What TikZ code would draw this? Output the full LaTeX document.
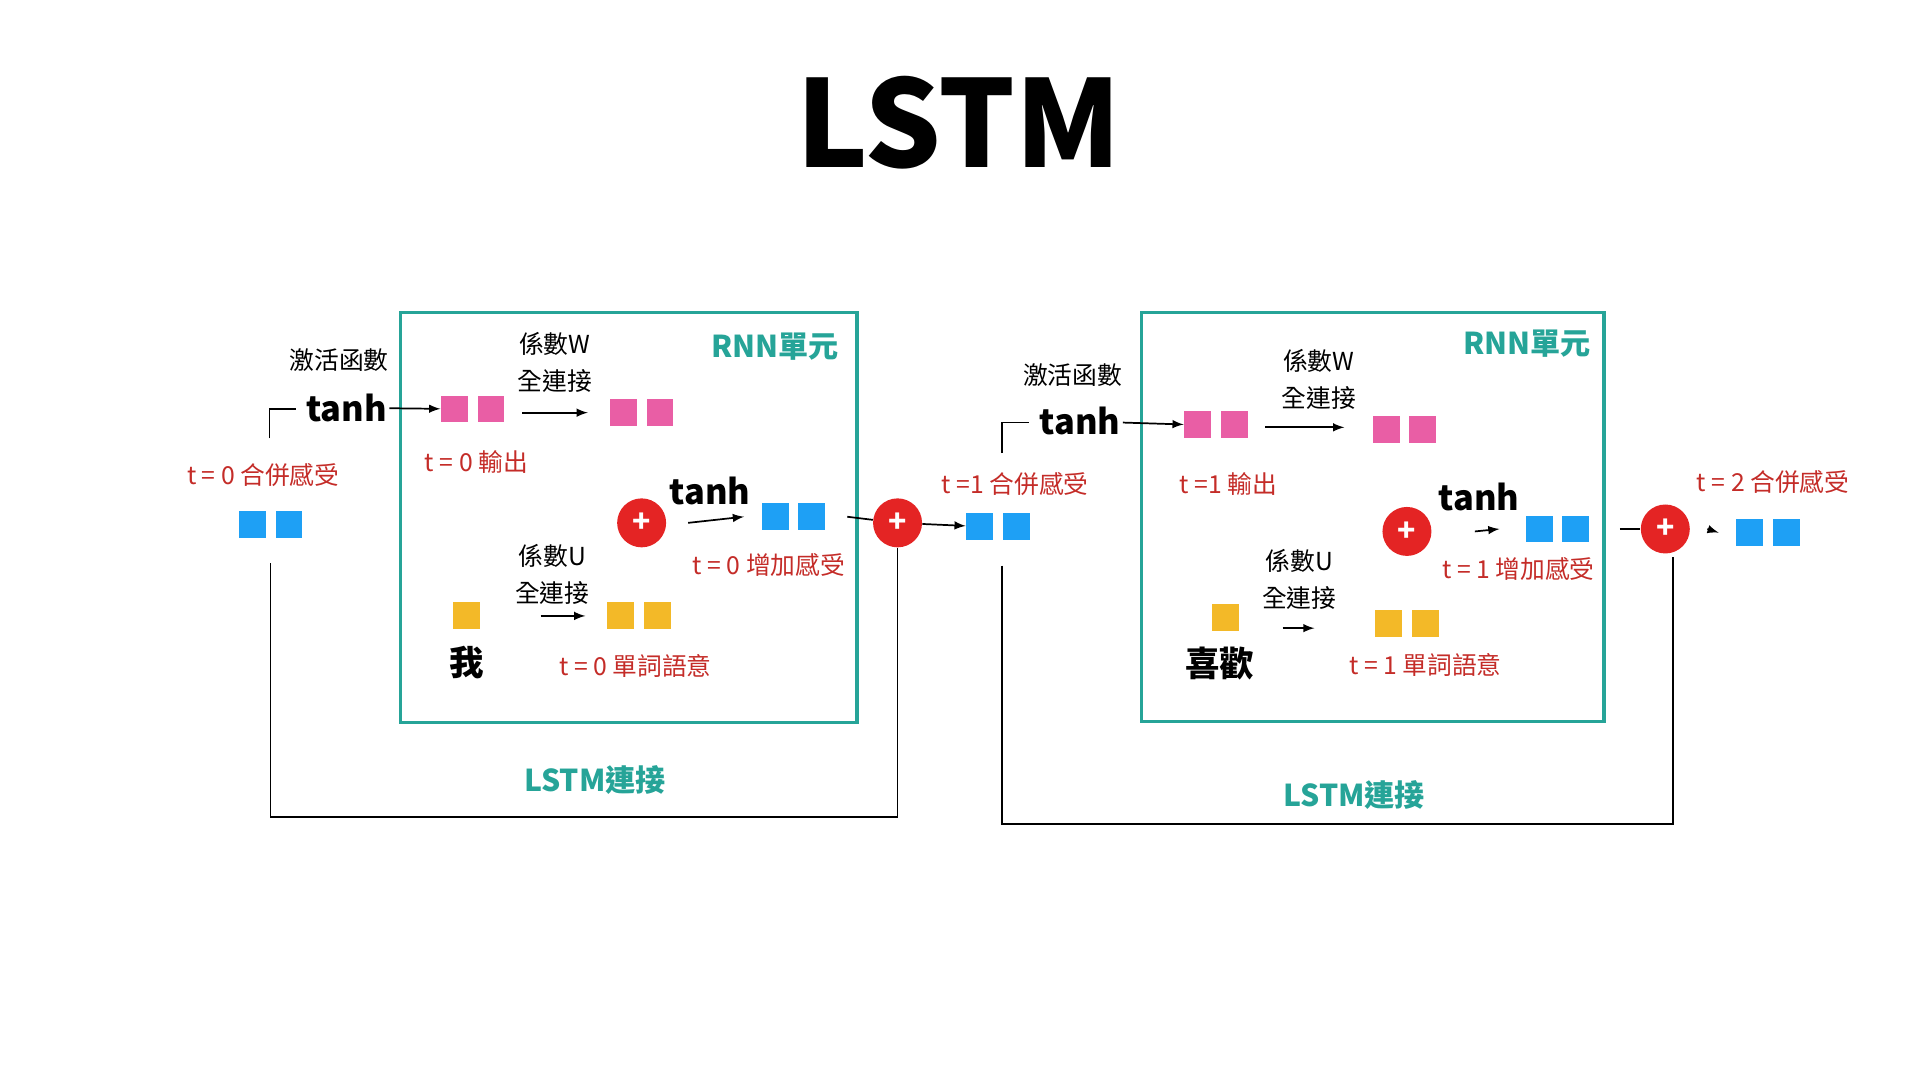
\documentclass[tikz,border=0pt]{standalone}
\usepackage{fontspec}
\setmainfont{Noto Sans CJK TC}
\usetikzlibrary{positioning}
\definecolor{teal}{RGB}{38,164,152}
\definecolor{redtxt}{RGB}{196,44,40}
\definecolor{pinksq}{RGB}{233,94,165}
\definecolor{bluesq}{RGB}{30,160,245}
\definecolor{yelsq}{RGB}{243,185,40}
\definecolor{plusred}{RGB}{228,36,36}
\tikzset{
  txt/.style={font=\fontsize{11.5}{13}\selectfont, inner sep=1pt},
  red txt/.style={txt, text=redtxt},
  fn/.style={font=\fontsize{16}{18}\selectfont\bfseries, inner sep=1pt},
  teal txt/.style={font=\fontsize{14}{16}\selectfont\bfseries, text=teal, inner sep=1pt},
  sq/.style={rectangle, minimum size=0.44cm, inner sep=0pt},
  pk/.style={sq, fill=pinksq},
  bl/.style={sq, fill=bluesq},
  yl/.style={sq, fill=yelsq},
  plus/.style={circle, fill=plusred, minimum size=0.8cm, inner sep=0pt, text=white, font=\bfseries\fontsize{14}{14}\selectfont},
  cell/.style={draw=teal, line width=1.6pt},
  arr/.style={-latex, thick},
  ln/.style={thick}
}
\begin{document}
\begin{tikzpicture}[x=0.02cm, y=-0.02cm]
    \useasboundingbox (0, 0) rectangle (1568, 882);
    \node [font=\fontsize{56}{60}\selectfont\bfseries] (title) at (783, 100) {LSTM};

    % t = 0 cell
    \draw [cell] (327, 255) rectangle (700, 590);
    \node [teal txt] (rnnA) at (633, 283) {RNN單元};
    \node [red txt] (inA) at (215, 388) {t = 0 合併感受};
    \node [bl] (inA1) at (206, 428) {};
    \node [bl] (inA2) at (236, 428) {};
    \node [txt] (actA) at (277, 294) {激活函數};
    \node [fn] (tanhA) at (283, 333) {tanh};
    \coordinate (brA1) at (220, 358);
    \coordinate (brA2) at (242, 334);
    \draw [ln] (brA1) |- (brA2);
    \node [pk] (hA1) at (371, 334) {};
    \node [pk] (hA2) at (401, 334) {};
    \draw [arr] (tanhA) -- (hA1);
    \node [red txt] (outA) at (389, 377) {t = 0 輸出};
    \node [txt] (wA) at (453, 281) {係數W};
    \node [txt] (fcwA) at (453, 311) {全連接};
    \node [pk] (whA1) at (509, 337) {};
    \node [pk] (whA2) at (539, 337) {};
    \draw [arr] ([xshift=8]hA2.east |- whA1) -- ([xshift=-10]whA1.west);
    \node [yl] (xA) at (381, 503) {};
    \node [font=\fontsize{16}{18}\selectfont\bfseries] (wordA) at (381, 541) {我};
    \node [txt] (uA) at (451, 454) {係數U};
    \node [txt] (fcuA) at (451, 484) {全連接};
    \node [yl] (uxA1) at (507, 503) {};
    \node [yl] (uxA2) at (537, 503) {};
    \draw [arr] ([xshift=28]xA.east) -- ([xshift=-10]uxA1.west);
    \node [red txt] (semA) at (519, 544) {t = 0 單詞語意};
    \node [plus] (sumA) at (524, 427) {+};
    \node [fn] (tanhA2) at (580, 401) {tanh};
    \node [bl] (cA1) at (633, 422) {};
    \node [bl] (cA2) at (663, 422) {};
    \draw [arr] ([xshift=10]sumA.east) -- ([xshift=-8]cA1.west);
    \node [red txt] (addA) at (628, 461) {t = 0 增加感受};
    \node [plus] (lstmA) at (733, 427) {+};
    \draw [ln] ([xshift=10]cA2.east) -- (lstmA);
    \node [bl] (inB1) at (800, 430) {};
    \node [bl] (inB2) at (830, 430) {};
    \draw [arr] (lstmA) -- (inB1);
    \node [red txt] (inB) at (829, 395) {t =1 合併感受};
    \coordinate (skA) at (221, 460);
    \draw [ln] (skA) |- (lstmA |- 0, 667) -- (lstmA);
    \node [teal txt] (lstmlinkA) at (486, 637) {LSTM連接};

    % t = 1 cell
    \draw [cell] (932, 255) rectangle (1310, 589);
    \node [teal txt] (rnnB) at (1247, 281) {RNN單元};
    \node [txt] (actB) at (876, 306) {激活函數};
    \node [fn] (tanhB) at (882, 344) {tanh};
    \coordinate (brB1) at (818, 370);
    \coordinate (brB2) at (840, 345);
    \draw [ln] (brB1) |- (brB2);
    \node [pk] (hB1) at (978, 347) {};
    \node [pk] (hB2) at (1008, 347) {};
    \draw [arr] (tanhB) -- (hB1);
    \node [red txt] (outB) at (1003, 395) {t =1 輸出};
    \node [txt] (wB) at (1077, 295) {係數W};
    \node [txt] (fcwB) at (1077, 325) {全連接};
    \node [pk] (whB1) at (1132, 351) {};
    \node [pk] (whB2) at (1162, 351) {};
    \draw [arr] ([xshift=8]hB2.east |- 0, 349) -- ([xshift=-13]whB1.west |- 0, 349);
    \node [yl] (xB) at (1001, 504) {};
    \node [font=\fontsize{16}{18}\selectfont\bfseries] (wordB) at (996, 542) {喜歡};
    \node [txt] (uB) at (1061, 458) {係數U};
    \node [txt] (fcuB) at (1061, 488) {全連接};
    \node [yl] (uxB1) at (1134, 509) {};
    \node [yl] (uxB2) at (1164, 509) {};
    \draw [arr] ([xshift=20]xB.east |- 0, 513) -- ([xshift=-28]uxB1.west |- 0, 513);
    \node [red txt] (semB) at (1164, 543) {t = 1 單詞語意};
    \node [plus] (sumB) at (1149, 434) {+};
    \node [fn] (tanhB2) at (1208, 406) {tanh};
    \node [bl] (cB1) at (1257, 432) {};
    \node [bl] (cB2) at (1287, 432) {};
    \draw [arr] ([xshift=20]sumB.east) -- ([xshift=-12]cB1.west);
    \node [red txt] (addB) at (1240, 465) {t = 1 增加感受};
    \node [plus] (lstmB) at (1360, 432) {+};
    \draw [ln] ([xshift=14]cB2.east) -- (lstmB);
    \node [bl] (inC1) at (1429, 435) {};
    \node [bl] (inC2) at (1459, 435) {};
    \draw [arr] ([xshift=8]lstmB.east) -- ([xshift=-8]inC1.west);
    \node [red txt] (inC) at (1448, 394) {t = 2 合併感受};
    \coordinate (skB) at (818, 462);
    \draw [ln] (skB) |- (1366, 673) -- (1366, 455);
    \node [teal txt] (lstmlinkB) at (1106, 649) {LSTM連接};
\end{tikzpicture}
\end{document}
